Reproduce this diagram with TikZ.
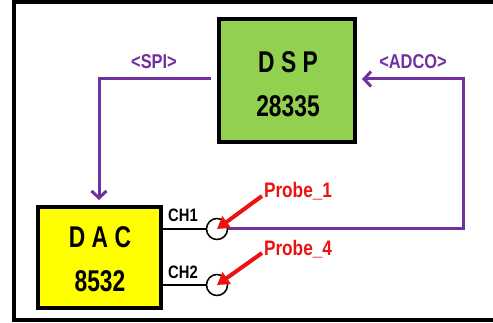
\documentclass[tikz,border=0pt]{standalone}
\usepackage{fontspec}
\setmainfont{Liberation Sans}[FakeStretch=0.82]
\newfontfamily\chipfont{Liberation Sans}[FakeStretch=0.76]
\usetikzlibrary{arrows.meta}
\definecolor{dspgreen}{HTML}{92D050}
\definecolor{dacyellow}{HTML}{FFFF00}
\definecolor{sigpurple}{HTML}{7030A0}
\definecolor{probered}{HTML}{EE1111}
\tikzset{
  chip/.style={draw=black, line width=3.5pt, inner sep=0pt, align=center, font=\chipfont\bfseries\fontsize{30}{44}\selectfont},
  sig/.style={draw=sigpurple, line width=3pt},
  siglabel/.style={text=sigpurple, font=\bfseries\fontsize{20}{22}\selectfont, inner sep=0pt},
  chlabel/.style={font=\bfseries\fontsize{18}{20}\selectfont, inner sep=0pt},
  probelabel/.style={text=probered, font=\bfseries\fontsize{21}{22}\selectfont, inner sep=0pt},
  wire/.style={draw=black, line width=2.5pt},
  probe/.style={circle, draw=black, fill=white, line width=1.5pt, minimum size=21pt, inner sep=0pt},
  probearrow/.style={draw=probered, line width=4pt, -{Triangle[length=12pt,width=14pt]}},
  barb/.style={-{Straight Barb[length=7pt,width=15pt,line width=3pt]}}
}
\begin{document}
\begin{tikzpicture}[x=1pt,y=-1pt]
\useasboundingbox (0,0) rectangle (493,323);
\fill[white] (0,0) rectangle (493,323);
\draw[line width=4pt] (500,2.5) -- (14,2.5) -- (14,320) -- (500,320);

\node[chip, fill=dspgreen, minimum width=136pt, minimum height=123pt] (dsp) at (287,80.5) {};
\node[chip, fill=dacyellow, minimum width=123pt, minimum height=101pt] (dac) at (99.5,257.5) {};
\node[chip, draw=none, anchor=base] (dspt1) at (288,73) {D S P};
\node[chip, draw=none, anchor=base] (dspt2) at (288,117) {28335};
\node[chip, draw=none, anchor=base] (dact1) at (100,248) {D A C};
\node[chip, draw=none, anchor=base] (dact2) at (100,292) {8532};

\node[probe] (p1) at (217,229) {};
\node[probe] (p2) at (217,285) {};

\coordinate (spiA) at (211,79);
\coordinate (spiB) at (99,79);
\coordinate (spiT) at (99,200);
\coordinate (adcR) at (463,229);
\coordinate (adcU) at (463,79);
\coordinate (adcT) at (362,79);

\draw[sig, barb] (spiA) -- (spiB) -- (spiT);
\draw[sig, barb] (p1.east) -- (adcR) -- (adcU) -- (adcT);

\draw[wire] (dac.east |- p1) -- (p1.west);
\draw[wire] (dac.east |- p2) -- (p2.west);

\node[siglabel] (spi) at (154,62) {<SPI>};
\node[siglabel] (adco) at (413,62) {<ADCO>};
\node[chlabel] (ch1) at (183,215) {CH1};
\node[chlabel] (ch2) at (183,272) {CH2};
\node[probelabel] (pl1) at (298,191) {Probe\_1};
\node[probelabel] (pl4) at (298,249) {Probe\_4};

\coordinate (a1) at (262,196);
\coordinate (a4) at (262,253);
\draw[probearrow] (a1) -- (p1.center);
\draw[probearrow] (a4) -- (p2.center);
\end{tikzpicture}
\end{document}
